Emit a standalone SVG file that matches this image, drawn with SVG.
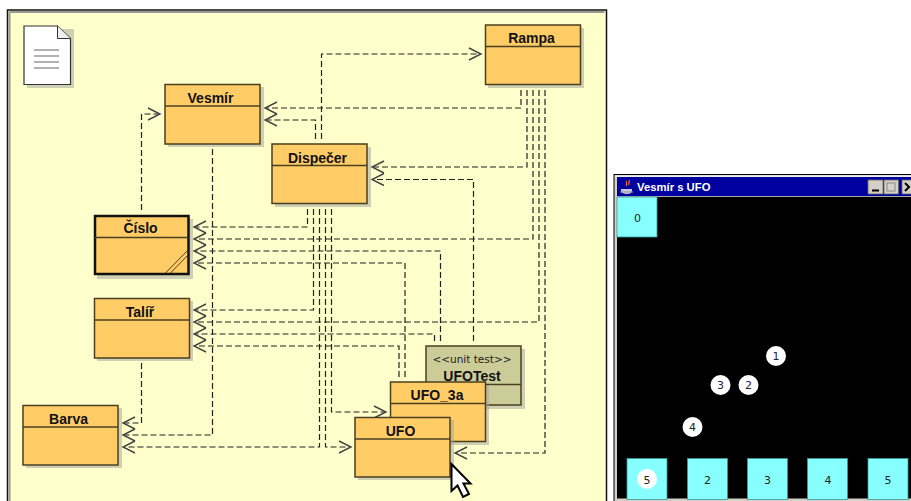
<svg xmlns="http://www.w3.org/2000/svg" width="911" height="501" viewBox="0 0 911 501">
<style>
.sh{fill:#a8a8a0;opacity:.55}
.box{fill:#ffcc66;stroke:#4a3f20;stroke-width:1.5}
.div{stroke:#4a3f20;stroke-width:1.5;fill:none}
.t{font-family:"Liberation Sans",Arial,sans-serif;font-weight:bold;font-size:14px;fill:#111;text-anchor:middle}
.c{fill:none;stroke:#222;stroke-width:1.2;stroke-dasharray:6 3}
.a{fill:none;stroke:#444;stroke-width:1.4}
.n{font-family:"DejaVu Sans",sans-serif;font-size:11px;fill:#222;text-anchor:middle}
.cy{fill:#88ffff;stroke:#3a9a9a;stroke-width:.8}
.u{fill:#fff}
.wb{fill:#d4d0c8;stroke:#666;stroke-width:.8}
</style>
<defs>
<path id="al" class="a" d="M12-6L0 0L12 6"/>
<path id="ar" class="a" d="M-12-6L0 0L-12 6"/>
</defs>
<rect width="911" height="501" fill="#fff"/>
<g id="canvas">
<rect x="7.500" y="10" width="599" height="500" fill="#ffffcc" stroke="#111" stroke-width="1.500"/>
<path d="M9.500 12H604.500M9.500 12V501" stroke="#999" stroke-width="2" fill="none"/>
</g>
<g id="note">
<path class="sh" d="M27 29h47v59h-47z"/>
<path d="M24 26H57.500L70.500 38.500V84.500H24Z" fill="#fff" stroke="#333" stroke-width="1.200"/>
<path d="M57.500 26V38.500H70.500" fill="#eee" stroke="#333" stroke-width="1"/>
<path d="M34 50h25M34 56h25M34 62h25M34 68h25" stroke="#666" stroke-width="1.200"/>
</g>
<g id="connectors">
<path class="c" d="M141.500 210V114H160"/>
<path class="c" d="M212.500 149V435H123"/>
<path class="c" d="M141.500 363V423H123"/>
<path class="c" d="M307.500 209V227H194"/>
<path class="c" d="M313.500 209V310H194"/>
<path class="c" d="M319.500 209V447H123"/>
<path class="c" d="M325.500 209V447H351"/>
<path class="c" d="M331.500 209V412H386"/>
<path class="c" d="M521 90V108H265"/>
<path class="c" d="M527 90V167H372"/>
<path class="c" d="M533 90V239H194"/>
<path class="c" d="M539 90V322H194"/>
<path class="c" d="M545 90V453H455"/>
<path class="c" d="M321.500 139V54H481"/>
<path class="c" d="M315.500 139V120H265"/>
<path class="c" d="M473.500 341V179.500H372"/>
<path class="c" d="M440.500 341V251H194"/>
<path class="c" d="M434.500 341V334H194"/>
<path class="c" d="M405 377V263H194"/>
<path class="c" d="M399 377V346H194"/>
<use href="#ar" x="160" y="114"/>
<use href="#ar" x="481" y="54"/>
<use href="#ar" x="386" y="412"/>
<use href="#ar" x="351" y="447"/>
<use href="#al" x="265" y="108"/>
<use href="#al" x="265" y="120"/>
<use href="#al" x="372" y="167"/>
<use href="#al" x="372" y="179.500"/>
<use href="#al" x="194" y="227"/>
<use href="#al" x="194" y="239"/>
<use href="#al" x="194" y="251"/>
<use href="#al" x="194" y="263"/>
<use href="#al" x="194" y="310"/>
<use href="#al" x="194" y="322"/>
<use href="#al" x="194" y="334"/>
<use href="#al" x="194" y="346"/>
<use href="#al" x="123" y="423"/>
<use href="#al" x="123" y="435"/>
<use href="#al" x="123" y="447"/>
<use href="#al" x="455" y="453"/>
</g>
<g id="vesmir">
<rect class="sh" x="168" y="87" width="96" height="60"/>
<rect class="box" x="165" y="84.500" width="95" height="59.500"/>
<path class="div" d="M165 106H260"/>
<text class="t" x="210.500" y="103">Vesmír</text>
</g>
<g id="rampa">
<rect class="sh" x="488" y="28" width="96" height="60"/>
<rect class="box" x="485.500" y="25" width="95" height="59.500"/>
<path class="div" d="M485.500 46.500H580.500"/>
<text class="t" x="531.500" y="43">Rampa</text>
</g>
<g id="dispecer">
<rect class="sh" x="275" y="147" width="96" height="60"/>
<rect class="box" x="272" y="144" width="95" height="59.500"/>
<path class="div" d="M272 165.500H367"/>
<text class="t" x="317.500" y="162.500">Dispečer</text>
</g>
<g id="cislo">
<rect class="sh" x="97" y="219" width="96" height="60"/>
<rect class="box" x="95" y="216" width="93.500" height="58" style="stroke:#111;stroke-width:2.500"/>
<path class="div" d="M95 237.500H188"/>
<path d="M165 273.500L187 251M170 273.500L187 256" stroke="#4a3f20" stroke-width="1" fill="none"/>
<text class="t" x="140.500" y="233">Číslo</text>
</g>
<g id="talir">
<rect class="sh" x="97" y="301" width="96" height="60"/>
<rect class="box" x="94.500" y="298.500" width="95" height="59.500"/>
<path class="div" d="M94.500 320H189.500"/>
<text class="t" x="140" y="317">Talíř</text>
</g>
<g id="barva">
<rect class="sh" x="26" y="408" width="96" height="60"/>
<rect class="box" x="23" y="405.500" width="95" height="59.500"/>
<path class="div" d="M23 427H118"/>
<text class="t" x="68.500" y="424">Barva</text>
</g>
<g id="ufotest">
<rect class="sh" x="429" y="349" width="96" height="60"/>
<rect class="box" x="426" y="346" width="95" height="59" style="fill:#cccc99"/>
<path class="div" d="M426 384.500H521"/>
<text x="472" y="363" text-anchor="middle" style="font-family:'DejaVu Sans',sans-serif;font-size:10.500px;fill:#222">&lt;&lt;unit test&gt;&gt;</text>
<text class="t" x="472" y="381">UFOTest</text>
</g>
<g id="ufo3a">
<rect class="sh" x="393" y="385" width="96" height="60"/>
<rect class="box" x="390.500" y="382" width="95" height="59.500"/>
<path class="div" d="M390.500 403.500H485.500"/>
<text class="t" x="437" y="400">UFO_3a</text>
</g>
<g id="ufo">
<rect class="sh" x="358" y="420" width="96" height="60"/>
<rect class="box" x="355" y="417.500" width="95" height="59.500"/>
<path class="div" d="M355 439H450"/>
<text class="t" x="400.500" y="436">UFO</text>
</g>
<g id="cursor">
<path d="M451.500 464V491L457.500 485.500L463 497L469 494L463.500 483.500H470.500Z" fill="#fff" stroke="#000" stroke-width="2"/>
</g>
<g id="window">
<rect x="614" y="174.500" width="300" height="330" fill="#d4d0c8" stroke="#000" stroke-width="1"/>
<rect x="615" y="175.500" width="300" height="2" fill="#eee"/>
<rect x="617" y="177" width="294" height="19" fill="#0000a0"/>
<rect x="617" y="196" width="294" height="1" fill="#aaa"/>
<rect x="617" y="197" width="294" height="301.500" fill="#000"/>
<g id="java-icon">
<path d="M621 189h11v2c0 2-2 3-5 3s-6-1-6-3Z" fill="#c8c8e0"/>
<path d="M620 192h13" stroke="#999" stroke-width="1"/>
<path d="M626 181c2 2-1 3 1 5M629 180c1 2-1 3 0 5" stroke="#e8604a" stroke-width="1.300" fill="none"/>
</g>
<text x="637" y="191" style="font-family:'Liberation Sans',Arial,sans-serif;font-size:11.300px;font-weight:bold;fill:#fff">Vesmír s UFO</text>
<rect class="wb" x="868" y="180" width="15" height="14"/>
<path d="M872 190.500h7" stroke="#000" stroke-width="2"/>
<rect class="wb" x="884" y="180" width="14.500" height="14"/>
<rect x="887" y="183" width="8" height="8" fill="none" stroke="#888"/>
<rect class="wb" x="902" y="180" width="12" height="14"/>
<path d="M905 183l4 4-4 4" stroke="#000" stroke-width="2" fill="none"/>
</g>
<g id="stop-0"><rect class="cy" x="617" y="197" width="40" height="40"/><text class="n" x="637.500" y="222">0</text></g>
<g id="stop-5a"><rect class="cy" x="627" y="458.500" width="40" height="41"/><circle class="u" cx="647" cy="479" r="10"/><text class="n" x="647" y="483.500">5</text></g>
<g id="stop-2"><rect class="cy" x="687.500" y="458.500" width="40" height="41"/><text class="n" x="707.500" y="483.500">2</text></g>
<g id="stop-3"><rect class="cy" x="747.500" y="458.500" width="40" height="41"/><text class="n" x="767.500" y="483.500">3</text></g>
<g id="stop-4"><rect class="cy" x="807.500" y="458.500" width="40" height="41"/><text class="n" x="828" y="483.500">4</text></g>
<g id="stop-5b"><rect class="cy" x="868" y="458.500" width="40" height="41"/><text class="n" x="888" y="483.500">5</text></g>
<g id="ufo-1"><circle class="u" cx="776" cy="356" r="10"/><text class="n" x="776" y="360">1</text></g>
<g id="ufo-2"><circle class="u" cx="748.500" cy="385" r="10"/><text class="n" x="748.500" y="389">2</text></g>
<g id="ufo-3"><circle class="u" cx="720.500" cy="385" r="10"/><text class="n" x="720.500" y="389">3</text></g>
<g id="ufo-4"><circle class="u" cx="692.500" cy="427" r="10"/><text class="n" x="692.500" y="431">4</text></g>
</svg>
